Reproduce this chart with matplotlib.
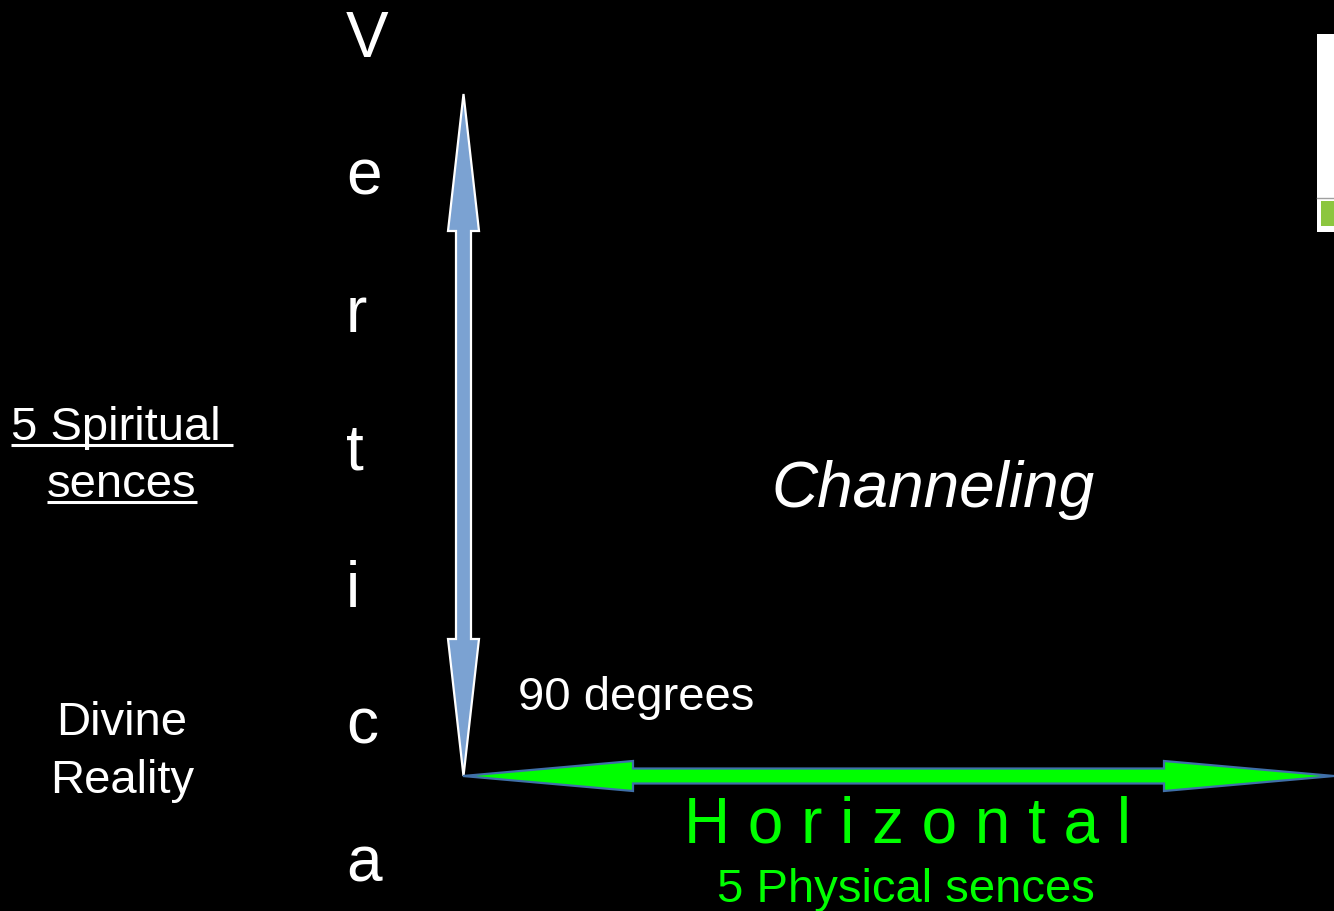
import matplotlib
matplotlib.use("Agg")
import matplotlib.pyplot as plt
from matplotlib.patches import Polygon, Rectangle

plt.rcParams['font.family'] = ['Liberation Sans', 'DejaVu Sans']

W, H = 1334, 912

# Text content
vertical_letters = ["V", "e", "r", "t", "i", "c", "a"]
spiritual_lines = ["5 Spiritual ", "sences"]
divine_lines = ["Divine", "Reality"]
center_label = "Channeling"
angle_label = "90 degrees"
horizontal_label = "H o r i z o n t a l"
physical_label = "5 Physical sences"

# Arrow geometry (pixel space)
v_arrow_x = 463.5
v_arrow_top, v_arrow_bottom = 95, 777
v_head_len, v_head_half, v_shaft_half = 137, 15.5, 7.5
h_arrow_y = 777
h_arrow_left, h_arrow_right = 463, 1334
h_head_len, h_head_half, h_shaft_half = 170, 15, 7.5

SMALL = 34

fig = plt.figure(figsize=(W / 100, H / 100), dpi=100)
fig.patch.set_facecolor("black")
ax = fig.add_axes([0, 0, 1, 1])
ax.set_xlim(0, W)
ax.set_ylim(H, 0)
ax.axis("off")
ax.set_facecolor("black")

# Vertical double arrow
x, t, b = v_arrow_x, v_arrow_top, v_arrow_bottom
vpts = [
    (x, t), (x + v_head_half, t + v_head_len), (x + v_shaft_half, t + v_head_len),
    (x + v_shaft_half, b - v_head_len), (x + v_head_half, b - v_head_len), (x, b),
    (x - v_head_half, b - v_head_len), (x - v_shaft_half, b - v_head_len),
    (x - v_shaft_half, t + v_head_len), (x - v_head_half, t + v_head_len),
]
ax.add_patch(Polygon(vpts, closed=True, facecolor="#7BA2D2", edgecolor="white",
                     linewidth=1.6, joinstyle="miter"))

# Horizontal double arrow
y, l, r = h_arrow_y, h_arrow_left, h_arrow_right
hpts = [
    (l, y), (l + h_head_len, y - h_head_half), (l + h_head_len, y - h_shaft_half),
    (r - h_head_len, y - h_shaft_half), (r - h_head_len, y - h_head_half), (r, y),
    (r - h_head_len, y + h_head_half), (r - h_head_len, y + h_shaft_half),
    (l + h_head_len, y + h_shaft_half), (l + h_head_len, y + h_head_half),
]
ax.add_patch(Polygon(hpts, closed=True, facecolor="#00FF00", edgecolor="#3F6FA8",
                     linewidth=1.6, joinstyle="miter"))

# Vertical letters
for k, ch in enumerate(vertical_letters):
    ax.text(346, 57 + 137.4 * k, ch, color="white", fontsize=46,
            ha="left", va="baseline")

# Underlined spiritual text
fig.canvas.draw()
renderer = fig.canvas.get_renderer()
for line, base in zip(spiritual_lines, [440, 497]):
    tx = ax.text(122, base, line, color="white", fontsize=SMALL, ha="center", va="baseline")
    bb = tx.get_window_extent(renderer=renderer)
    inv = ax.transData.inverted()
    (x0, _), (x1, _) = inv.transform([(bb.x0, bb.y0), (bb.x1, bb.y0)])
    ax.plot([x0, x1], [base + 6, base + 6], color="white", linewidth=2.2,
            solid_capstyle="butt")

for line, base in zip(divine_lines, [735, 793]):
    ax.text(122, base, line, color="white", fontsize=SMALL, ha="center", va="baseline")

ax.text(771, 507, center_label, color="white", fontsize=46, style="italic",
        ha="left", va="baseline")
ax.text(518, 710, angle_label, color="white", fontsize=SMALL, ha="left", va="baseline")
ax.text(907, 843, horizontal_label, color="#00FF00", fontsize=46,
        ha="center", va="baseline")
ax.text(906, 902, physical_label, color="#00FF00", fontsize=SMALL,
        ha="center", va="baseline")

# Fragment at right edge
ax.add_patch(Rectangle((1317, 35), 17, 198, facecolor="white", edgecolor="none"))
ax.plot([1317, 1334], [199, 199], color="#A0A0A0", linewidth=1)
ax.add_patch(Rectangle((1321, 202), 13, 25, facecolor="#8CC63F", edgecolor="none"))

fig.savefig("out.png", dpi=100, facecolor="black")
